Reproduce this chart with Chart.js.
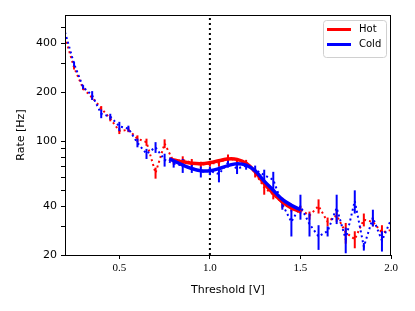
<!DOCTYPE html>
<html>
<head>
<meta charset="utf-8">
<script src="https://cdn.jsdelivr.net/npm/chart.js@4.4.1/dist/chart.umd.min.js"></script>
<style>
  html, body { margin: 0; padding: 0; background: #fff; }
  #wrap { width: 415px; height: 311px; position: relative; }
</style>
</head>
<body>
<div id="wrap"><canvas id="rateChart"></canvas></div>
<script>
// --- data ---
const thresholds = [0.20, 0.25, 0.30, 0.35, 0.40, 0.45, 0.50, 0.55, 0.60, 0.65, 0.70, 0.75, 0.80,
                    0.85, 0.90, 0.95, 1.00, 1.05, 1.10, 1.15, 1.20, 1.25, 1.30, 1.35, 1.40, 1.45,
                    1.50, 1.55, 1.60, 1.65, 1.70, 1.75, 1.80, 1.85, 1.90, 1.95, 2.00];

const hotRate = [440, 285, 212, 186, 160, 138, 116, 118, 104, 99, 64, 97, 75,
                 77, 74, 72, 73, 74, 79, 76, 74, 64, 52, 47, 42, 39,
                 38, 35, 40, 32, 35, 27.5, 25, 33, 32, 27.5, 28.5];
const hotErr  = [12, 8, 5, 5, 5, 5, 5, 4, 5, 5, 5, 6, 3,
                 4, 4, 3, 3, 4, 4, 3, 3, 4, 5, 3, 3, 2,
                 2, 2, 4, 2, 3, 4, 3, 3, 2, 3, 2];

const coldRate = [470, 300, 216, 192, 148, 142, 124, 120, 98, 84, 92, 77, 73,
                  71, 69, 65, 66, 63, 74, 68, 71, 67, 62, 58, 41, 32,
                  40, 31, 26, 28, 39, 25, 43, 22.5, 34, 24.5, 33];
const coldErr  = [15, 10, 6, 12, 9, 6, 8, 5, 6, 6, 7, 7, 4,
                  7, 5, 5, 4, 7, 5, 5, 4, 4, 5, 7, 3, 6,
                  7, 5, 4.5, 2, 8, 4.5, 7, 1.2, 4, 3.5, 4];

// smooth fits (solid lines)
const fitX    = [0.775, 0.80, 0.85, 0.90, 0.95, 1.00, 1.05, 1.10, 1.15, 1.20, 1.25, 1.30, 1.35, 1.40, 1.45, 1.50];
const hotFit  = [78, 77, 75, 73.5, 73, 74, 76, 78, 77.5, 73.5, 65, 55, 48, 42.5, 39, 37];
const coldFit = [78, 76, 71.5, 68, 66, 66, 68, 71, 73, 71.5, 66, 57, 50, 44, 40.5, 38];

const markerX = 1.0;
const xTicks = [0.5, 1.0, 1.5, 2.0];
const yTicks = [20, 30, 40, 50, 60, 70, 80, 90, 100, 200, 300, 400, 500];
const yLabels = [20, 40, 100, 200, 400];
const yMin = 20, yMax = 600;

const RED = '#ff0000';
const BLUE = '#0000ff';

const pts = (xs, ys) => xs.map((x, i) => ({ x: x, y: ys[i] }));

// error bars drawn right after their own dataset
const errorBars = {
  id: 'errorBars',
  afterDatasetDraw(chart, args) {
    const ds = chart.data.datasets[args.index];
    if (!ds.errors) return;
    const { ctx, chartArea } = chart;
    const xs = chart.scales.x, ys = chart.scales.y;
    ctx.save();
    ctx.beginPath();
    ctx.rect(chartArea.left, chartArea.top, chartArea.right - chartArea.left, chartArea.bottom - chartArea.top);
    ctx.clip();
    ctx.strokeStyle = ds.borderColor;
    ctx.lineWidth = 2;
    ds.data.forEach((p, i) => {
      const e = ds.errors[i];
      const px = xs.getPixelForValue(p.x);
      ctx.beginPath();
      ctx.moveTo(px, ys.getPixelForValue(p.y - e));
      ctx.lineTo(px, ys.getPixelForValue(p.y + e));
      ctx.stroke();
    });
    ctx.restore();
  }
};

// frame + legend box
const frameAndLegend = {
  id: 'frameAndLegend',
  afterDraw(chart) {
    const { ctx, chartArea: a } = chart;
    ctx.save();
    ctx.strokeStyle = '#000';
    ctx.lineWidth = 1;
    ctx.strokeRect(a.left + 0.5, a.top + 0.5, a.right - a.left - 1, a.bottom - a.top);

    // legend
    const bx = a.right - 68, by = a.top + 5, bw = 63, bh = 37;
    ctx.beginPath();
    ctx.roundRect(bx + 0.5, by + 0.5, bw, bh, 3);
    ctx.fillStyle = 'rgba(255,255,255,0.85)';
    ctx.fill();
    ctx.strokeStyle = '#d0d0d0';
    ctx.stroke();
    const items = [['Hot', RED], ['Cold', BLUE]];
    items.forEach(([label, col], i) => {
      const ly = by + 9.5 + i * 15;
      ctx.strokeStyle = col;
      ctx.lineWidth = 3;
      ctx.beginPath();
      ctx.moveTo(bx + 4, ly);
      ctx.lineTo(bx + 28, ly);
      ctx.stroke();
      ctx.fillStyle = '#000';
      ctx.font = '10px "DejaVu Sans"';
      ctx.textBaseline = 'middle';
      ctx.fillText(label, bx + 36, ly);
    });
    ctx.restore();
  }
};

new Chart(document.getElementById('rateChart'), {
  type: 'line',
  data: {
    datasets: [
      {
        label: 'Cold', data: pts(fitX, coldFit), borderColor: BLUE, borderWidth: 3.5,
        pointRadius: 0, tension: 0.4, order: 1
      },
      {
        label: 'Hot', data: pts(fitX, hotFit), borderColor: RED, borderWidth: 3.5,
        pointRadius: 0, tension: 0.4, order: 2
      },
      {
        label: 'cold data', data: pts(thresholds, coldRate), errors: coldErr, borderColor: BLUE,
        borderWidth: 2, borderDash: [2, 3], pointRadius: 0, tension: 0, order: 3
      },
      {
        label: 'hot data', data: pts(thresholds, hotRate), errors: hotErr, borderColor: RED,
        borderWidth: 2, borderDash: [2, 3], pointRadius: 0, tension: 0, order: 4
      },
      {
        label: 'marker', data: [{ x: markerX, y: yMin }, { x: markerX, y: yMax }], borderColor: '#000',
        borderWidth: 2, borderDash: [2, 3], pointRadius: 0, order: 5
      }
    ]
  },
  options: {
    responsive: true,
    maintainAspectRatio: false,
    animation: false,
    layout: { padding: { top: 15, right: 24, left: 0, bottom: 0 } },
    plugins: { legend: { display: false }, tooltip: { enabled: false } },
    scales: {
      x: {
        type: 'linear', min: 0.2, max: 2.0,
        afterBuildTicks: s => { s.ticks = xTicks.map(v => ({ value: v })); },
        afterFit: s => { s.height = 56; },
        grid: { drawOnChartArea: false, drawTicks: true, tickLength: 4, color: '#000' },
        border: { display: true, color: '#000' },
        ticks: {
          color: '#000', padding: 3, autoSkip: false, maxRotation: 0,
          font: { family: '"Liberation Serif", serif', size: 11 },
          callback: v => Number(v).toFixed(1)
        },
        title: {
          display: true, text: 'Threshold [V]', color: '#000',
          font: { family: '"DejaVu Sans"', size: 11 }, padding: { top: 0, bottom: 14 }
        }
      },
      y: {
        type: 'logarithmic', min: yMin, max: yMax,
        afterBuildTicks: s => { s.ticks = yTicks.map(v => ({ value: v })); },
        afterFit: s => { s.width = 65; },
        grid: { drawOnChartArea: false, drawTicks: true, tickLength: 4, color: '#000' },
        border: { display: true, color: '#000' },
        ticks: {
          color: '#000', padding: 4, autoSkip: false,
          font: { family: '"DejaVu Sans"', size: 11 },
          callback: v => yLabels.includes(v) ? String(v) : ''
        },
        title: {
          display: true, text: 'Rate [Hz]', color: '#000',
          font: { family: '"DejaVu Sans"', size: 11 }, padding: { top: 15, bottom: 0 }
        }
      }
    }
  },
  plugins: [errorBars, frameAndLegend]
});
</script>
</body>
</html>
